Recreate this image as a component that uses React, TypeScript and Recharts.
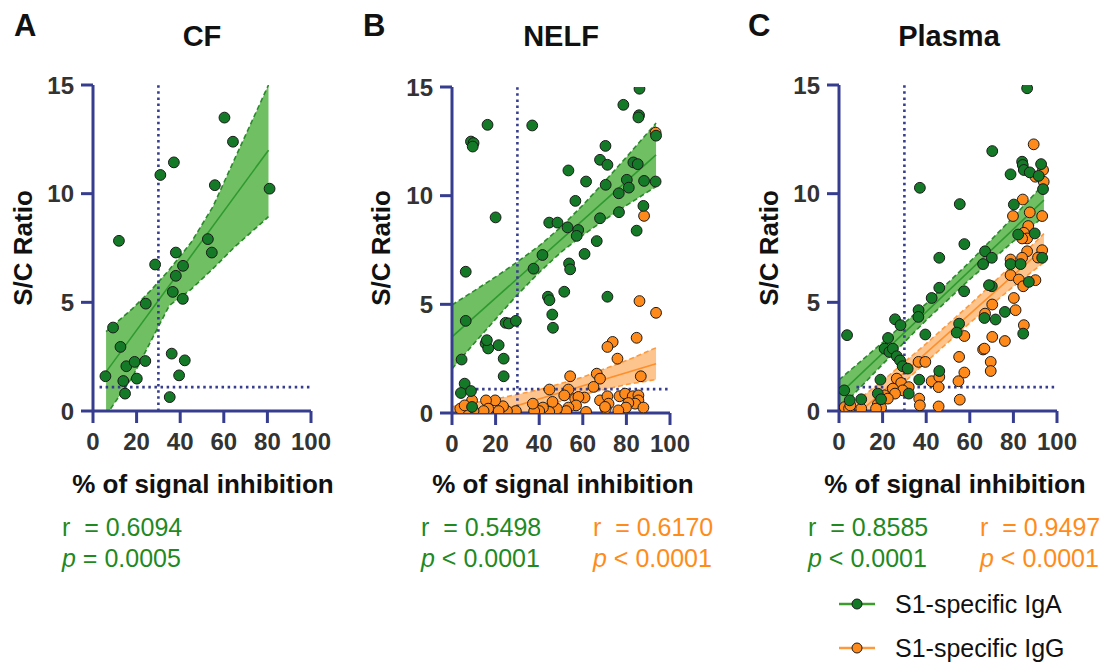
import React from 'react';
import { ComposedChart, Scatter, Area, Line, XAxis, YAxis, ReferenceLine } from 'recharts';

const FONT = '"Liberation Sans", Arial, Helvetica, sans-serif';
const NAVY = '#363c8e';
const GREEN_DOT = '#157a27';
const ORANGE_DOT = '#ff8a1c';
const GREEN_TXT = '#1f8a1f';
const ORANGE_TXT = '#ff8c1a';

const X_TICKS = [0, 20, 40, 60, 80, 100];
const Y_TICKS = [0, 5, 10, 15];
const PANEL_LETTERS = ['A', 'B', 'C'];
const PANEL_TITLES = ['CF', 'NELF', 'Plasma'];
const LEGEND_LABELS = ['S1-specific IgA', 'S1-specific IgG'];

// ---------- CF ----------
const CF_IGA: [number, number][] = [
  [5.7, 1.6], [9.2, 3.84], [11.9, 7.83], [12.6, 2.95], [15.3, 2.06], [13.9, 1.38], [14.7, 0.8],
  [19.1, 2.26], [20.1, 1.49], [24.0, 2.3], [24.2, 4.94], [28.5, 6.74], [30.9, 10.86], [37.1, 11.44],
  [38.0, 7.29], [38.0, 6.22], [41.3, 6.68], [36.6, 5.48], [41.2, 5.16], [36.1, 2.64], [42.1, 2.33],
  [39.5, 1.64], [35.2, 0.64], [52.7, 7.91], [54.5, 7.29], [55.9, 10.39], [60.3, 13.5], [64.2, 12.39],
  [81.0, 10.23],
];
const CF_IGA_BAND_X = [6, 18, 27, 35, 45, 55, 65, 80.5];
const CF_IGA_BAND_LO = [-0.2, 1.55, 3.3, 4.85, 5.6, 6.55, 7.55, 8.94];
const CF_IGA_BAND_HI = [3.65, 4.7, 5.6, 6.5, 7.75, 9.4, 11.6, 15.0];
const CF_IGA_FIT_X = [6, 80.5];
const CF_IGA_FIT_Y = [1.8, 12.0];

// ---------- NELF ----------
const NELF_IGA: [number, number][] = [
  [86.0, 14.92], [78.6, 14.18], [85.8, 13.7], [85.5, 13.6], [16.3, 13.26], [36.8, 13.23], [8.7, 12.49],
  [9.9, 12.42], [9.5, 12.26], [93.6, 12.76], [70.4, 12.29], [67.9, 11.65], [71.3, 11.42], [53.4, 11.16],
  [83.2, 11.53], [85.2, 11.45], [80.2, 10.73], [61.5, 10.65], [70.5, 10.5], [81.1, 10.37], [88.1, 10.68],
  [93.4, 10.65], [76.5, 10.11], [20.0, 9.0], [56.6, 9.76], [87.8, 9.53], [76.6, 9.24], [67.9, 8.96],
  [44.6, 8.76], [48.4, 8.76], [53.0, 8.54], [57.9, 8.42], [57.2, 8.15], [84.7, 8.39], [66.4, 7.91],
  [60.8, 7.32], [41.5, 7.27], [37.4, 6.64], [53.7, 6.88], [54.2, 6.61], [6.3, 6.5], [71.3, 5.35],
  [51.5, 5.58], [44.0, 5.35], [44.7, 5.19], [46.0, 4.53], [46.3, 3.92], [6.3, 4.24], [24.6, 4.15],
  [26.1, 4.12], [29.3, 4.24], [15.4, 3.2], [16.6, 2.97], [21.4, 3.12], [16.0, 3.35], [4.4, 2.46],
  [23.7, 2.5], [23.7, 1.69], [5.8, 1.35], [4.1, 0.92], [8.7, 1.01], [9.2, 0.28],
];
const NELF_IGG: [number, number][] = [
  [88.1, 9.07], [93.4, 12.9], [86.0, 5.15], [93.6, 4.61], [84.7, 3.46], [73.7, 3.27], [71.3, 3.04],
  [75.9, 2.5], [86.6, 1.69], [66.4, 1.81], [67.9, 1.58], [54.2, 1.69], [64.9, 1.2], [44.7, 1.08],
  [53.4, 1.08], [51.5, 0.81], [56.5, 0.66], [60.8, 0.71], [58.0, 0.74], [67.9, 0.58], [71.3, 0.77],
  [76.8, 0.77], [79.4, 0.89], [82.9, 0.77], [85.5, 0.81], [85.5, 0.58], [84.0, 0.43], [80.9, 0.46],
  [87.8, 0.25], [79.8, 0.25], [76.3, 0.12], [71.8, 0.43], [70.5, 0.2], [70.2, 0.28], [61.5, 0.05],
  [56.9, 0.35], [53.4, 0.25], [52.4, 0.09], [48.1, 0.2], [46.1, 0.51], [44.6, 0.05], [41.7, 0.25],
  [40.0, 0.09], [37.7, 0.09], [37.1, 0.43], [29.3, 0.09], [25.2, 0.09], [23.4, 0.31], [21.4, 0.09],
  [19.8, 0.58], [15.6, 0.58], [16.6, 0.2], [14.5, 0.09], [9.2, 0.58], [9.9, 0.09], [7.6, 0.2],
  [6.3, 0.09], [3.8, 0.2], [5.8, 0.35],
];
const NELF_IGA_BAND_X = [0, 10, 20, 30, 40, 50, 60, 70, 80, 93.6];
const NELF_IGA_BAND_LO = [2.03, 3.19, 4.32, 5.44, 6.47, 7.4, 8.18, 8.89, 9.55, 10.42];
const NELF_IGA_BAND_HI = [4.97, 5.61, 6.26, 6.95, 7.69, 8.56, 9.56, 10.65, 11.77, 13.34];
const NELF_IGA_FIT_X = [0, 93.6];
const NELF_IGA_FIT_Y = [3.5, 11.88];
const NELF_IGG_BAND_X = [0, 20, 40, 60, 80, 93.6];
const NELF_IGG_BAND_LO = [-1.41, -0.56, 0.23, 0.85, 1.31, 1.54];
const NELF_IGG_BAND_HI = [0.29, 0.64, 1.07, 1.65, 2.41, 3.0];
const NELF_IGG_FIT_X = [0, 93.6];
const NELF_IGG_FIT_Y = [-0.56, 2.27];

// ---------- Plasma ----------
const PLASMA_IGA: [number, number][] = [
  [86.3, 14.85], [70.3, 11.96], [37.1, 10.27], [84.0, 11.47], [84.3, 11.32], [84.8, 11.09], [87.5, 10.98],
  [92.7, 11.36], [91.6, 10.82], [78.7, 10.89], [93.6, 10.21], [80.2, 9.5], [55.4, 9.52], [89.8, 8.17],
  [82.2, 8.12], [57.5, 7.68], [67.0, 7.35], [70.1, 7.05], [66.1, 6.76], [78.7, 6.76], [83.3, 6.76],
  [93.2, 7.05], [46.0, 7.05], [87.1, 5.94], [70.1, 5.74], [68.8, 5.79], [57.4, 5.51], [46.0, 5.67],
  [42.5, 5.2], [36.5, 4.64], [36.4, 4.33], [76.1, 4.56], [66.7, 4.28], [71.8, 4.21], [25.7, 4.22],
  [28.2, 3.95], [55.1, 4.02], [54.0, 3.61], [39.6, 3.52], [3.7, 3.49], [84.5, 3.56], [22.5, 3.36],
  [20.9, 2.87], [23.1, 2.72], [24.7, 2.87], [26.5, 2.52], [28.0, 2.33], [29.2, 2.06], [31.5, 1.95],
  [46.0, 1.84], [36.8, 1.44], [19.0, 1.44], [2.4, 0.95], [10.2, 0.54], [4.9, 0.49], [17.8, 0.8],
  [19.3, 0.54], [32.0, 0.8],
];
const PLASMA_IGG: [number, number][] = [
  [89.3, 12.27], [93.6, 11.09], [93.9, 10.55], [90.1, 10.78], [84.3, 9.73], [87.5, 9.14], [93.2, 8.97],
  [79.8, 8.97], [86.8, 8.51], [84.8, 8.2], [86.3, 7.94], [84.0, 7.94], [86.3, 7.35], [93.2, 7.4],
  [91.3, 7.06], [84.0, 7.05], [78.7, 6.97], [78.7, 6.25], [82.5, 6.05], [90.1, 6.02], [84.5, 5.74],
  [80.2, 5.2], [81.0, 4.64], [70.3, 4.9], [67.0, 4.48], [84.8, 3.95], [70.3, 3.41], [76.1, 3.22],
  [57.5, 3.45], [66.1, 2.83], [66.7, 2.87], [55.1, 2.49], [69.6, 2.26], [69.6, 1.84], [57.5, 1.77],
  [54.8, 1.37], [36.5, 2.26], [39.6, 2.26], [42.5, 1.37], [46.0, 1.57], [45.7, 1.1], [26.5, 1.49],
  [28.5, 1.29], [32.0, 1.1], [29.2, 0.95], [24.7, 1.03], [25.7, 0.8], [20.9, 0.72], [22.4, 0.57],
  [17.8, 0.31], [19.3, 0.15], [17.0, 0.11], [36.8, 0.57], [37.1, 0.26], [45.7, 0.21], [55.4, 0.52],
  [10.2, 0.11], [2.6, 0.18], [4.6, 0.11], [5.2, 0.26],
];
const PLASMA_IGA_BAND_X = [0, 20, 40, 60, 80, 94];
const PLASMA_IGA_BAND_LO = [0.07, 2.15, 4.18, 6.06, 7.81, 8.95];
const PLASMA_IGA_BAND_HI = [1.43, 3.15, 4.94, 6.86, 8.93, 10.45];
const PLASMA_IGA_FIT_X = [0, 94];
const PLASMA_IGA_FIT_Y = [0.75, 9.7];
const PLASMA_IGG_BAND_X = [2, 20, 40, 60, 80, 94];
const PLASMA_IGG_BAND_LO = [-1.42, 0.39, 2.26, 4.05, 5.73, 6.84];
const PLASMA_IGG_BAND_HI = [-0.02, 1.39, 3.1, 4.89, 6.77, 8.16];
const PLASMA_IGG_FIT_X = [2, 94];
const PLASMA_IGG_FIT_Y = [-0.72, 7.5];

// ---------- stats ----------
const STATS = [
  { iga: ['0.6094', '= 0.0005'], igg: null },
  { iga: ['0.5498', '< 0.0001'], igg: ['0.6170', '< 0.0001'] },
  { iga: ['0.8585', '< 0.0001'], igg: ['0.9497', '< 0.0001'] },
];

const toPts = (arr: [number, number][]) => arr.map(([x, y]) => ({ x, y }));
const toBand = (xs: number[], lo: number[], hi: number[]) =>
  xs.map((x, i) => ({ x, lo: lo[i], hi: hi[i], range: [lo[i], hi[i]] }));
const toFit = (xs: number[], ys: number[]) => xs.map((x, i) => ({ x, fit: ys[i] }));

const GREEN_STYLE = { fill: '#71bf63', edge: '#2b8a2b', line: '#2f9a2f' };
const ORANGE_STYLE = { fill: '#fdc48d', edge: '#ff9a3c', line: '#ff8f2a' };

const GreenDot = (p: any) => (
  <circle cx={p.cx} cy={p.cy} r={5.4} fill={GREEN_DOT} stroke="#1b1b1b" strokeWidth={1} />
);
const OrangeDot = (p: any) => (
  <circle cx={p.cx} cy={p.cy} r={5.4} fill={ORANGE_DOT} stroke="#1b1b1b" strokeWidth={1} />
);

type BandSpec = { band: any[]; fit: any[]; style: typeof GREEN_STYLE };
type PanelProps = {
  left: number;
  top: number;
  bottom: number;
  bands: BandSpec[];
  orange?: [number, number][];
  green: [number, number][];
  hStart: number;
};

const W = 340;
const H = 470;
const PLOT_W = 218;

function Panel({ left, top, bottom, bands, orange, green, hStart }: PanelProps) {
  return (
    <div style={{ position: 'absolute', left, top: 0, width: W, height: H }}>
      <ComposedChart
        width={W}
        height={H}
        margin={{ top, left: 33, right: W - 93 - PLOT_W, bottom: H - bottom - 40 }}
      >
        <XAxis
          type="number"
          dataKey="x"
          domain={[0, 100]}
          ticks={X_TICKS}
          allowDataOverflow
          height={40}
          tickSize={12}
          tickMargin={10}
          axisLine={{ stroke: NAVY, strokeWidth: 3 }}
          tickLine={{ stroke: NAVY, strokeWidth: 3 }}
          tick={{ fill: '#333333', fontSize: 24, fontWeight: 700, fontFamily: FONT }}
          interval={0}
        />
        <YAxis
          type="number"
          domain={[0, 15]}
          ticks={Y_TICKS}
          allowDataOverflow
          width={60}
          tickSize={12}
          tickMargin={7}
          axisLine={{ stroke: NAVY, strokeWidth: 3 }}
          tickLine={{ stroke: NAVY, strokeWidth: 3 }}
          tick={{ fill: '#333333', fontSize: 24, fontWeight: 700, fontFamily: FONT }}
          interval={0}
        />
        {bands.map((b, i) => (
          <Area
            key={'a' + i}
            data={b.band}
            dataKey="range"
            type="linear"
            fill={b.style.fill}
            fillOpacity={1}
            stroke="none"
            isAnimationActive={false}
            dot={false}
            activeDot={false}
          />
        ))}
        {bands.map((b, i) => (
          <Line
            key={'lo' + i}
            data={b.band}
            dataKey="lo"
            type="linear"
            stroke={b.style.edge}
            strokeWidth={1.6}
            strokeDasharray="5 3"
            dot={false}
            activeDot={false}
            isAnimationActive={false}
          />
        ))}
        {bands.map((b, i) => (
          <Line
            key={'hi' + i}
            data={b.band}
            dataKey="hi"
            type="linear"
            stroke={b.style.edge}
            strokeWidth={1.6}
            strokeDasharray="5 3"
            dot={false}
            activeDot={false}
            isAnimationActive={false}
          />
        ))}
        {bands.map((b, i) => (
          <Line
            key={'f' + i}
            data={b.fit}
            dataKey="fit"
            type="linear"
            stroke={b.style.line}
            strokeWidth={1.6}
            dot={false}
            activeDot={false}
            isAnimationActive={false}
          />
        ))}
        <ReferenceLine x={30} stroke={NAVY} strokeWidth={2.6} strokeDasharray="2.5 3.6" />
        <ReferenceLine
          segment={[{ x: hStart, y: 1.1 }, { x: 100, y: 1.1 }]}
          stroke={NAVY}
          strokeWidth={2.6}
          strokeDasharray="2.5 3.6"
        />
        {orange && (
          <Scatter data={toPts(orange)} dataKey="y" shape={OrangeDot} isAnimationActive={false} />
        )}
        <Scatter data={toPts(green)} dataKey="y" shape={GreenDot} isAnimationActive={false} />
      </ComposedChart>
    </div>
  );
}

const PLOT_LEFTS = [93, 452, 839];
const TITLE_X = [202, 561, 949];
const LETTER_X = [14, 363, 748];
const XLABEL_X = [203, 563, 955];
const YLABEL_X = [32, 390, 778];

export default function App() {
  const tops = [85, 87, 85];
  const bottoms = [411, 413, 411];
  return (
    <div
      style={{
        position: 'absolute',
        left: 0,
        top: 0,
        width: 1110,
        height: 666,
        background: '#ffffff',
        overflow: 'hidden',
        fontFamily: FONT,
      }}
    >
      <Panel
        left={PLOT_LEFTS[0] - 93}
        top={tops[0]}
        bottom={bottoms[0]}
        bands={[
          { band: toBand(CF_IGA_BAND_X, CF_IGA_BAND_LO, CF_IGA_BAND_HI), fit: toFit(CF_IGA_FIT_X, CF_IGA_FIT_Y), style: GREEN_STYLE },
        ]}
        green={CF_IGA}
        hStart={3}
      />
      <Panel
        left={PLOT_LEFTS[1] - 93}
        top={tops[1]}
        bottom={bottoms[1]}
        bands={[
          { band: toBand(NELF_IGA_BAND_X, NELF_IGA_BAND_LO, NELF_IGA_BAND_HI), fit: toFit(NELF_IGA_FIT_X, NELF_IGA_FIT_Y), style: GREEN_STYLE },
          { band: toBand(NELF_IGG_BAND_X, NELF_IGG_BAND_LO, NELF_IGG_BAND_HI), fit: toFit(NELF_IGG_FIT_X, NELF_IGG_FIT_Y), style: ORANGE_STYLE },
        ]}
        orange={NELF_IGG}
        green={NELF_IGA}
        hStart={11}
      />
      <Panel
        left={PLOT_LEFTS[2] - 93}
        top={tops[2]}
        bottom={bottoms[2]}
        bands={[
          { band: toBand(PLASMA_IGA_BAND_X, PLASMA_IGA_BAND_LO, PLASMA_IGA_BAND_HI), fit: toFit(PLASMA_IGA_FIT_X, PLASMA_IGA_FIT_Y), style: GREEN_STYLE },
          { band: toBand(PLASMA_IGG_BAND_X, PLASMA_IGG_BAND_LO, PLASMA_IGG_BAND_HI), fit: toFit(PLASMA_IGG_FIT_X, PLASMA_IGG_FIT_Y), style: ORANGE_STYLE },
        ]}
        orange={PLASMA_IGG}
        green={PLASMA_IGA}
        hStart={8}
      />
      <svg
        width={1110}
        height={666}
        style={{ position: 'absolute', left: 0, top: 0, pointerEvents: 'none' }}
        fontFamily={FONT}
      >
        {PANEL_LETTERS.map((l, i) => (
          <text key={l} x={LETTER_X[i]} y={36} fontSize={31} fontWeight={700} fill="#111">
            {l}
          </text>
        ))}
        {PANEL_TITLES.map((t, i) => (
          <text key={t} x={TITLE_X[i]} y={46} fontSize={29} fontWeight={700} fill="#111" textAnchor="middle">
            {t}
          </text>
        ))}
        {YLABEL_X.map((x, i) => (
          <text
            key={'yl' + i}
            x={x}
            y={248}
            fontSize={26}
            fontWeight={700}
            fill="#111"
            textAnchor="middle"
            transform={`rotate(-90 ${x} 248)`}
          >
            S/C Ratio
          </text>
        ))}
        {XLABEL_X.map((x, i) => (
          <text key={'xl' + i} x={x} y={493} fontSize={26} fontWeight={700} fill="#111" textAnchor="middle">
            % of signal inhibition
          </text>
        ))}
        {STATS.map((s, i) => {
          const gx = PLOT_LEFTS[i] - 31;
          return (
            <g key={'st' + i} fontSize={25}>
              <text x={gx} y={536} fill={GREEN_TXT} style={{ whiteSpace: 'pre' }}>
                {'r  = ' + s.iga[0]}
              </text>
              <text x={gx} y={567} fill={GREEN_TXT} style={{ whiteSpace: 'pre' }}>
                <tspan fontStyle="italic">p</tspan>
                {' ' + s.iga[1]}
              </text>
              {s.igg && (
                <>
                  <text x={gx + 172} y={536} fill={ORANGE_TXT} style={{ whiteSpace: 'pre' }}>
                    {'r  = ' + s.igg[0]}
                  </text>
                  <text x={gx + 172} y={567} fill={ORANGE_TXT} style={{ whiteSpace: 'pre' }}>
                    <tspan fontStyle="italic">p</tspan>
                    {' ' + s.igg[1]}
                  </text>
                </>
              )}
            </g>
          );
        })}
        {LEGEND_LABELS.map((lab, i) => {
          const y = 604 + i * 44;
          const col = i === 0 ? '#3c9c2c' : '#ff9a3c';
          const dot = i === 0 ? GREEN_DOT : ORANGE_DOT;
          return (
            <g key={lab}>
              <line x1={839} x2={875} y1={y} y2={y} stroke={col} strokeWidth={2.5} />
              <circle cx={857} cy={y} r={5} fill={dot} stroke="#1b1b1b" strokeWidth={1} />
              <text x={895} y={y + 9} fontSize={25} fill="#111">
                {lab}
              </text>
            </g>
          );
        })}
      </svg>
    </div>
  );
}
